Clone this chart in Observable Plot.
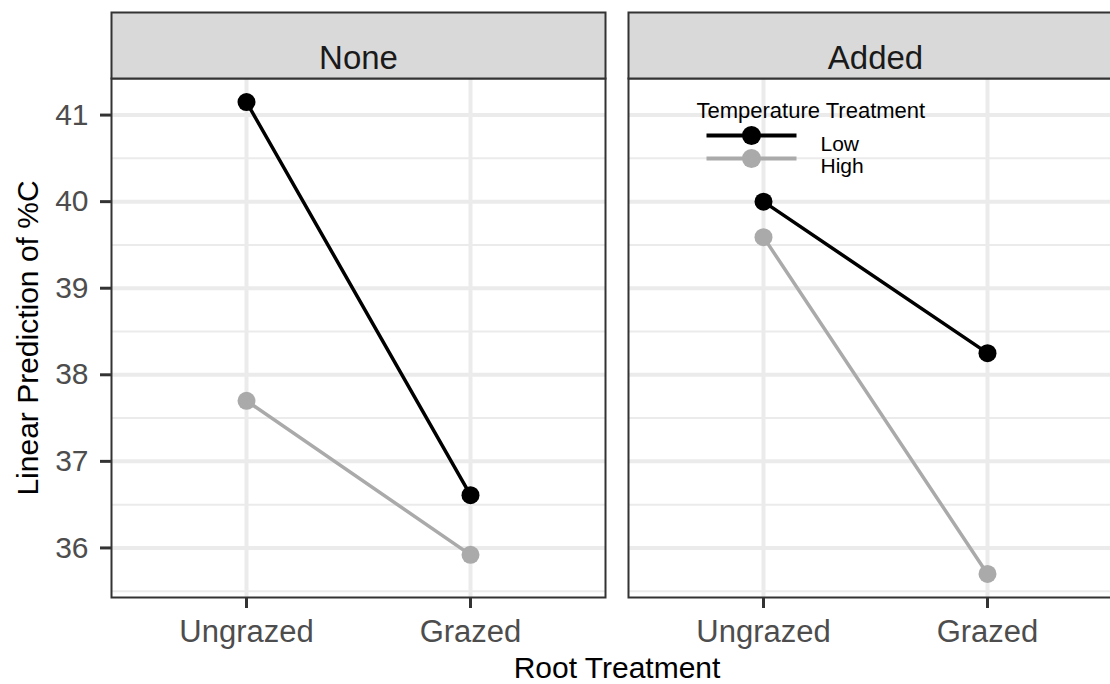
<!DOCTYPE html>
<html><head><meta charset="utf-8">
<script src="https://cdn.jsdelivr.net/npm/d3@7"></script>
<script src="https://cdn.jsdelivr.net/npm/@observablehq/plot@0.6"></script>
<style>
html,body{margin:0;padding:0;background:#fff;overflow:hidden;width:1110px;}
#chart{width:1110px;height:684px;overflow:hidden;}
#chart svg{max-width:none !important;display:block;}
</style></head><body><div id="chart"></div>
<script>
const nutrientLevels = ["None", "Added"];
const rootLevels = ["Ungrazed", "Grazed"];
const tempLevels = ["Low", "High"];
const tempColors = ["#000000", "#aaaaaa"];
const lowNone = [41.15, 36.61];
const highNone = [37.70, 35.92];
const lowAdded = [40.00, 38.25];
const highAdded = [39.59, 35.70];
const yTicks = [36, 37, 38, 39, 40, 41];
const yMinor = [35.5, 36.5, 37.5, 38.5, 39.5, 40.5];
const stripLabels = ["None", "Added"];
const legendTitle = "Temperature Treatment";
const xTitle = "Root Treatment";
const yTitle = "Linear Prediction of %C";

const series = {None: {Low: lowNone, High: highNone}, Added: {Low: lowAdded, High: highAdded}};
const data = [];
for (const n of nutrientLevels)
  for (const t of tempLevels)
    rootLevels.forEach((r, i) => data.push({nutrient: n, temp: t, root: r, value: series[n][t][i]}));

const [ymin, ymax] = d3.extent(data, d => d.value);
const pad = (ymax - ymin) * 0.05;

const W = 1122, H = 684, mT = 78, mB = 87, mL = 111, mR = 0;
const innerH = H - mT - mB;
const stripH = 66;
const font = "'Liberation Sans', Arial, Helvetica, sans-serif";

const lineSymbol = {draw(ctx) { ctx.moveTo(-45, 0); ctx.lineTo(45, 0); }};

const legendMarks = tempLevels.flatMap((t, i) => [
  Plot.dot([t], {fx: () => "Added", frameAnchor: "top-left", dx: 123, dy: 57 + 23 * i,
    symbol: lineSymbol, stroke: d => d, fill: "none", strokeWidth: 4}),
  Plot.dot([t], {fx: () => "Added", frameAnchor: "top-left", dx: 123, dy: 57 + 23 * i,
    r: 9.5, fill: d => d}),
  Plot.text([t], {fx: () => "Added", frameAnchor: "top-left", dx: 192, dy: 58 + 22 * i,
    text: d => d, textAnchor: "start", fontSize: 21, fill: "#000"})
]);

const chart = Plot.plot({
  width: W, height: H,
  marginTop: mT, marginBottom: mB, marginLeft: mL, marginRight: mR,
  style: {fontFamily: font, background: "#fff", overflow: "visible", maxWidth: "none"},
  fx: {domain: nutrientLevels, paddingInner: 0.0445, paddingOuter: 0, axis: null, label: null},
  x: {type: "point", domain: rootLevels, padding: 0.6},
  y: {domain: [ymin - pad, ymax + pad]},
  color: {domain: tempLevels, range: tempColors},
  marks: [
    Plot.ruleY(yMinor, {stroke: "#ebebeb", strokeWidth: 2}),
    Plot.ruleY(yTicks, {stroke: "#ebebeb", strokeWidth: 4}),
    Plot.ruleX(rootLevels, {x: d => d, stroke: "#ebebeb", strokeWidth: 4}),
    Plot.line(data, {fx: "nutrient", x: "root", y: "value", z: "temp", stroke: "temp", strokeWidth: 3.5}),
    Plot.dot(data, {fx: "nutrient", x: "root", y: "value", fill: "temp", r: 9}),
    Plot.frame({stroke: "#333333", strokeWidth: 2}),
    Plot.frame({fill: "#d9d9d9", stroke: "#333333", strokeWidth: 2, insetTop: -stripH, insetBottom: innerH}),
    Plot.text(stripLabels, {fx: d => d, text: d => d, frameAnchor: "top", dy: -stripH / 2, fontSize: 33, fill: "#1a1a1a"}),
    Plot.axisY({ticks: yTicks, tickSize: 11, tickPadding: 12, tickFormat: d => String(d), fontSize: 30,
      fill: "#4d4d4d", stroke: "#333333", strokeWidth: 3, label: null}),
    Plot.axisY({ticks: [], label: yTitle, labelAnchor: "center", labelOffset: 95, labelArrow: false,
      fontSize: 30, fill: "#000"}),
    Plot.axisX({tickSize: 11, tickPadding: 11, fontSize: 31, fill: "#4d4d4d", stroke: "#333333",
      strokeWidth: 3, label: null}),
    Plot.axisX({ticks: [], label: xTitle, labelAnchor: "center", labelOffset: 80, labelArrow: false,
      fontSize: 30, fill: "#000"}),
    Plot.text([legendTitle], {fx: () => "Added", frameAnchor: "top-left", dx: 68, dy: 24,
      text: d => d, textAnchor: "start", fontSize: 22, fill: "#000"}),
    ...legendMarks
  ]
});
document.getElementById("chart").appendChild(chart);
</script>
</body></html>
